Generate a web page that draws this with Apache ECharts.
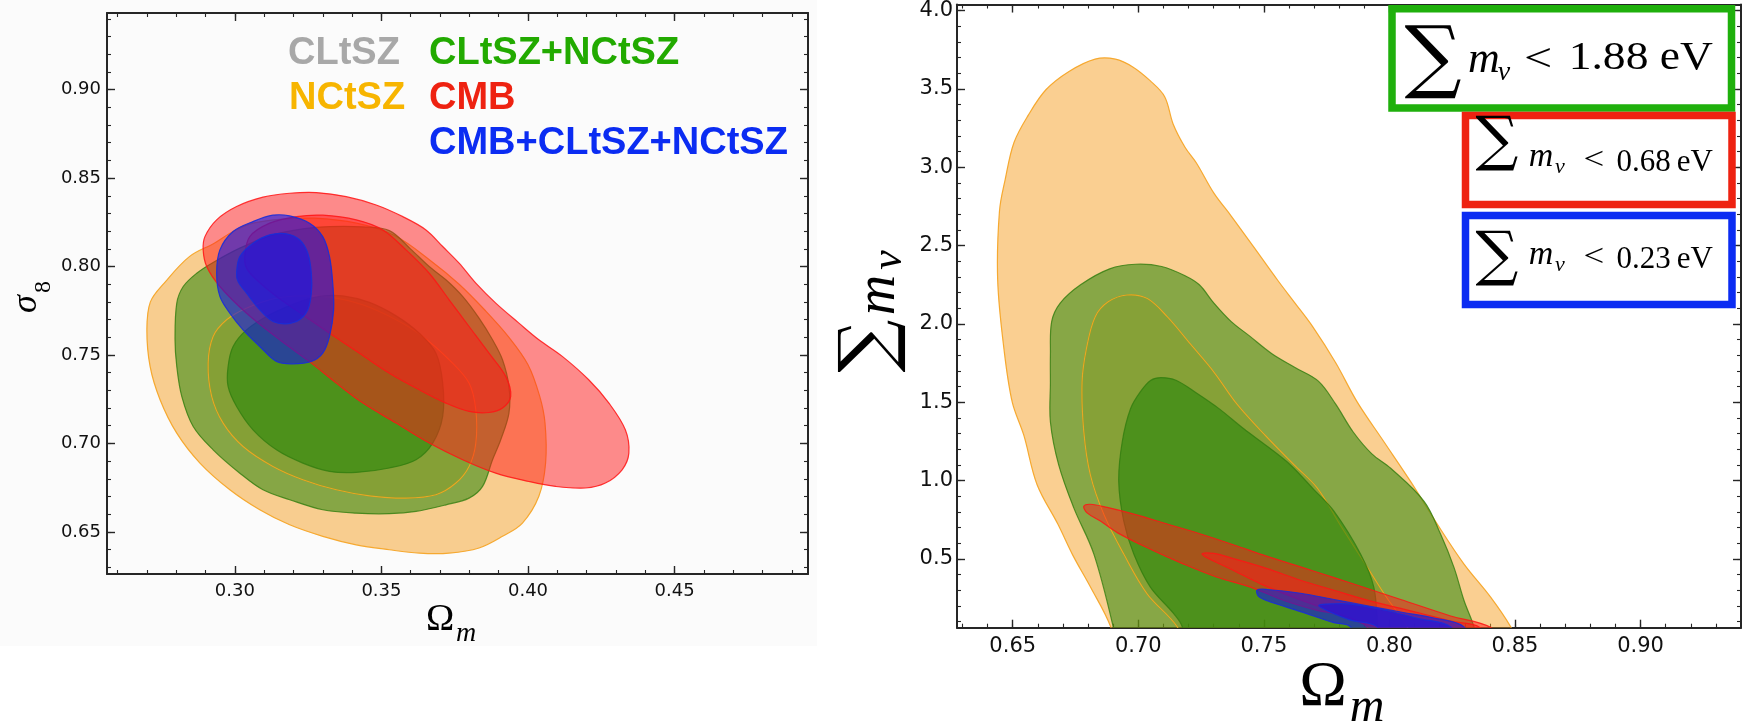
<!DOCTYPE html>
<html>
<head>
<meta charset="utf-8">
<script src="https://cdn.jsdelivr.net/npm/echarts@6/dist/echarts.min.js"></script>
<style>
  html, body { margin: 0; padding: 0; background: #ffffff; }
  #chart { width: 1742px; height: 725px; }
</style>
</head>
<body>
<div id="chart"></div>
<script>
// ---------- axis ticks ----------
const s8XTicks = [0.30, 0.35, 0.40, 0.45];
const s8YTicks = [0.65, 0.70, 0.75, 0.80, 0.85, 0.90];
const mnuXTicks = [0.65, 0.70, 0.75, 0.80, 0.85, 0.90];
const mnuYTicks = [0.5, 1.0, 1.5, 2.0, 2.5, 3.0, 3.5, 4.0];

// ---------- legend / bound labels ----------
const legendNames = ['CLtSZ', 'NCtSZ', 'CLtSZ+NCtSZ', 'CMB', 'CMB+CLtSZ+NCtSZ'];
const boundValues = ['1.88', '0.68', '0.23'];

// ---------- Omega_m – sigma_8 contours (95% / 68%) ----------
const s8NCtSZ95 = [[0.2760,0.7908],[0.2845,0.8056],[0.2930,0.8132],[0.2994,0.8198],[0.3062,0.8245],[0.3153,0.8267],[0.3270,0.8273],[0.3415,0.8245],[0.3545,0.8175],[0.3670,0.8030],[0.3765,0.7900],[0.3855,0.7750],[0.3935,0.7600],[0.4000,0.7445],[0.4040,0.7266],[0.4058,0.7115],[0.4060,0.6889],[0.4037,0.6701],[0.3981,0.6550],[0.3913,0.6475],[0.3833,0.6409],[0.3731,0.6380],[0.3629,0.6380],[0.3527,0.6399],[0.3414,0.6427],[0.3300,0.6475],[0.3187,0.6540],[0.3085,0.6625],[0.2983,0.6738],[0.2881,0.6889],[0.2802,0.7058],[0.2745,0.7247],[0.2711,0.7435],[0.2700,0.7642],[0.2712,0.7800]];
const s8NCtSZ68 = [[0.2909,0.7454],[0.2926,0.7605],[0.2972,0.7699],[0.3040,0.7765],[0.3142,0.7821],[0.3232,0.7834],[0.3323,0.7827],[0.3437,0.7783],[0.3550,0.7699],[0.3641,0.7605],[0.3731,0.7473],[0.3799,0.7341],[0.3822,0.7190],[0.3822,0.7002],[0.3799,0.6870],[0.3754,0.6776],[0.3686,0.6710],[0.3584,0.6691],[0.3459,0.6704],[0.3346,0.6738],[0.3232,0.6795],[0.3130,0.6870],[0.3028,0.6983],[0.2960,0.7115],[0.2921,0.7266]];
const s8Combo95 = [[0.2802,0.7793],[0.2824,0.7887],[0.2870,0.7962],[0.2926,0.8023],[0.3017,0.8104],[0.3130,0.8179],[0.3232,0.8213],[0.3323,0.8226],[0.3437,0.8224],[0.3527,0.8203],[0.3599,0.8100],[0.3663,0.8000],[0.3720,0.7925],[0.3777,0.7831],[0.3833,0.7708],[0.3879,0.7586],[0.3913,0.7473],[0.3935,0.7322],[0.3935,0.7171],[0.3907,0.7021],[0.3879,0.6908],[0.3845,0.6757],[0.3799,0.6691],[0.3720,0.6653],[0.3618,0.6616],[0.3527,0.6603],[0.3414,0.6606],[0.3300,0.6625],[0.3187,0.6682],[0.3096,0.6738],[0.3017,0.6832],[0.2926,0.6964],[0.2858,0.7096],[0.2819,0.7266],[0.2802,0.7435],[0.2796,0.7586]];
const s8Combo68 = [[0.2977,0.7435],[0.2994,0.7548],[0.3040,0.7642],[0.3119,0.7727],[0.3210,0.7793],[0.3289,0.7831],[0.3368,0.7834],[0.3459,0.7797],[0.3550,0.7721],[0.3629,0.7623],[0.3686,0.7510],[0.3709,0.7341],[0.3709,0.7153],[0.3675,0.7002],[0.3618,0.6908],[0.3527,0.6861],[0.3414,0.6836],[0.3323,0.6842],[0.3232,0.6889],[0.3142,0.6964],[0.3062,0.7077],[0.3006,0.7209],[0.2977,0.7322]];
const s8CMB95 = [[0.2898,0.8169],[0.2938,0.8264],[0.3006,0.8339],[0.3096,0.8392],[0.3187,0.8414],[0.3278,0.8418],[0.3380,0.8395],[0.3482,0.8348],[0.3573,0.8282],[0.3652,0.8207],[0.3709,0.8113],[0.3765,0.8019],[0.3822,0.7906],[0.3890,0.7793],[0.3969,0.7680],[0.4037,0.7586],[0.4117,0.7492],[0.4207,0.7360],[0.4276,0.7228],[0.4332,0.7077],[0.4344,0.6945],[0.4321,0.6851],[0.4264,0.6776],[0.4196,0.6748],[0.4094,0.6757],[0.4003,0.6785],[0.3890,0.6832],[0.3777,0.6908],[0.3663,0.7002],[0.3550,0.7115],[0.3437,0.7228],[0.3346,0.7341],[0.3261,0.7454],[0.3153,0.7586],[0.3040,0.7736],[0.2949,0.7887],[0.2904,0.8000],[0.2892,0.8094]];
const s8CMB68 = [[0.3034,0.8056],[0.3051,0.8169],[0.3119,0.8245],[0.3210,0.8282],[0.3300,0.8290],[0.3414,0.8264],[0.3505,0.8207],[0.3584,0.8094],[0.3663,0.7962],[0.3731,0.7812],[0.3799,0.7661],[0.3867,0.7510],[0.3924,0.7379],[0.3941,0.7266],[0.3913,0.7200],[0.3867,0.7175],[0.3799,0.7181],[0.3720,0.7228],[0.3629,0.7303],[0.3527,0.7397],[0.3425,0.7510],[0.3323,0.7623],[0.3232,0.7727],[0.3142,0.7831],[0.3074,0.7925],[0.3040,0.7991]];
const s8All95 = [[0.2938,0.7962],[0.2949,0.8094],[0.2994,0.8198],[0.3062,0.8254],[0.3130,0.8290],[0.3187,0.8286],[0.3255,0.8245],[0.3300,0.8169],[0.3323,0.8056],[0.3334,0.7906],[0.3337,0.7755],[0.3323,0.7605],[0.3300,0.7510],[0.3261,0.7463],[0.3198,0.7450],[0.3142,0.7463],[0.3085,0.7548],[0.3028,0.7642],[0.2983,0.7736],[0.2949,0.7831]];
const s8All68 = [[0.3006,0.7962],[0.3017,0.8056],[0.3062,0.8132],[0.3119,0.8179],[0.3176,0.8185],[0.3221,0.8151],[0.3249,0.8075],[0.3261,0.7962],[0.3261,0.7849],[0.3249,0.7755],[0.3221,0.7699],[0.3176,0.7676],[0.3130,0.7689],[0.3085,0.7755],[0.3040,0.7849],[0.3011,0.7915]];

// ---------- Omega_m – sum m_nu contours (95% / 68%) ----------
const mnuNCtSZ95 = [[0.6905,-0.10],[0.6890,0.065],[0.6810,0.318],[0.6740,0.520],[0.6680,0.720],[0.6597,0.973],[0.6544,1.289],[0.6498,1.500],[0.6465,1.839],[0.6440,2.278],[0.6447,2.717],[0.6470,2.922],[0.6505,3.157],[0.6562,3.332],[0.6632,3.494],[0.6724,3.611],[0.6828,3.690],[0.6909,3.690],[0.6978,3.640],[0.7047,3.552],[0.7105,3.450],[0.7139,3.274],[0.7186,3.127],[0.7232,3.025],[0.7301,2.834],[0.7370,2.688],[0.7463,2.483],[0.7555,2.278],[0.7624,2.132],[0.7693,1.985],[0.7786,1.751],[0.7872,1.500],[0.7978,1.247],[0.8084,0.994],[0.8191,0.720],[0.8297,0.466],[0.8403,0.255],[0.8483,0.065],[0.8530,-0.10]];
const mnuNCtSZ68 = [[0.7190,-0.10],[0.7155,0.065],[0.7035,0.276],[0.6942,0.530],[0.6863,0.783],[0.6809,1.036],[0.6783,1.310],[0.6776,1.627],[0.6793,1.839],[0.6828,2.044],[0.6880,2.140],[0.6955,2.184],[0.7036,2.161],[0.7116,2.044],[0.7209,1.868],[0.7301,1.692],[0.7393,1.487],[0.7509,1.282],[0.7620,1.100],[0.7713,0.951],[0.7810,0.700],[0.7912,0.445],[0.7990,0.250],[0.8071,0.065],[0.8110,-0.10]];
const mnuCombo95 = [[0.6915,-0.10],[0.6900,0.065],[0.6823,0.530],[0.6743,0.825],[0.6683,1.099],[0.6650,1.373],[0.6650,1.627],[0.6650,1.800],[0.6655,2.014],[0.6689,2.132],[0.6770,2.249],[0.6886,2.351],[0.6989,2.380],[0.7093,2.366],[0.7186,2.307],[0.7243,2.249],[0.7301,2.132],[0.7370,2.014],[0.7440,1.926],[0.7532,1.809],[0.7624,1.721],[0.7717,1.634],[0.7786,1.487],[0.7855,1.311],[0.7930,1.170],[0.8005,1.078],[0.8138,0.867],[0.8204,0.656],[0.8257,0.445],[0.8297,0.234],[0.8337,0.065],[0.8360,-0.10]];
const mnuCombo68 = [[0.7180,-0.10],[0.7175,0.065],[0.7141,0.150],[0.7048,0.319],[0.6982,0.530],[0.6942,0.741],[0.6922,0.994],[0.6936,1.247],[0.6969,1.458],[0.7010,1.570],[0.7050,1.640],[0.7090,1.657],[0.7150,1.640],[0.7230,1.560],[0.7320,1.460],[0.7420,1.330],[0.7520,1.210],[0.7606,1.099],[0.7700,0.940],[0.7779,0.804],[0.7885,0.530],[0.7938,0.318],[0.7952,0.065],[0.7955,-0.10]];
const mnuCMB95 = [[0.6783,0.835],[0.6809,0.848],[0.6876,0.828],[0.6982,0.785],[0.7115,0.722],[0.7248,0.658],[0.7381,0.588],[0.7513,0.515],[0.7646,0.448],[0.7779,0.380],[0.7912,0.310],[0.8045,0.240],[0.8244,0.135],[0.8403,0.062],[0.8500,-0.10],[0.8040,-0.10],[0.7980,0.040],[0.7890,0.090],[0.7779,0.150],[0.7712,0.171],[0.7580,0.234],[0.7447,0.319],[0.7314,0.382],[0.7181,0.466],[0.7048,0.561],[0.6916,0.667],[0.6849,0.741],[0.6796,0.793]];
const mnuCMB68 = [[0.7254,0.532],[0.7301,0.534],[0.7381,0.500],[0.7513,0.437],[0.7646,0.363],[0.7779,0.299],[0.7912,0.236],[0.8045,0.183],[0.8124,0.152],[0.8250,0.100],[0.8360,0.062],[0.8420,-0.10],[0.8000,-0.10],[0.7900,0.080],[0.7780,0.160],[0.7650,0.235],[0.7487,0.340],[0.7381,0.424],[0.7274,0.506]];
const mnuAll95 = [[0.7473,0.300],[0.7513,0.304],[0.7646,0.280],[0.7779,0.240],[0.7912,0.200],[0.8045,0.160],[0.8177,0.122],[0.8297,0.065],[0.8340,-0.10],[0.7880,-0.10],[0.7845,0.065],[0.7779,0.092],[0.7646,0.163],[0.7513,0.232],[0.7478,0.262]];
const mnuAll68 = [[0.7719,0.203],[0.7780,0.213],[0.7845,0.211],[0.7978,0.173],[0.8111,0.120],[0.8244,0.065],[0.8290,-0.10],[0.7990,-0.10],[0.7951,0.065],[0.7845,0.108],[0.7753,0.168]];

// ---------- styling ----------
const ORANGE = [245, 160, 35];
const GREEN = [40, 135, 10];
const RED = [255, 25, 25];
const BLUE = [20, 20, 230];
const rgba = (c, a) => `rgba(${c[0]},${c[1]},${c[2]},${a})`;

// one contour region, drawn through the grid's own scales
// (fillAlpha 0 gives an outline only)
function region(name, pts, color, fillAlpha, strokeColor, axisIdx) {
  return {
    type: 'custom',
    name: name,
    xAxisIndex: axisIdx,
    yAxisIndex: axisIdx,
    clip: true,
    silent: true,
    animation: false,
    data: pts,
    renderItem: function (params, api) {
      if (params.dataIndex !== 0) return null;
      return {
        type: 'polygon',
        shape: { points: pts.map(function (p) { return api.coord(p); }), smooth: 0.35 },
        style: {
          fill: fillAlpha > 0 ? rgba(color, fillAlpha) : 'none',
          stroke: strokeColor, lineWidth: 1.2
        }
      };
    }
  };
}

function range(a, b, step) {
  const out = [];
  const n = Math.round((b - a) / step);
  for (let i = 0; i <= n; i++) out.push(+(a + i * step).toFixed(4));
  return out;
}

const AX = '#262626';

// major + minor tick axes on both sides of a grid
function axisSet(dim, gridIndex, min, max, major, minor, fmt, fontSize, margin) {
  const sides = dim === 'x' ? ['bottom', 'top'] : ['left', 'right'];
  const out = [];
  sides.forEach(function (side, si) {
    out.push({
      type: 'value', gridIndex: gridIndex, position: side, min: min, max: max,
      splitLine: { show: false },
      axisLine: { show: true, onZero: false, lineStyle: { color: AX, width: 2 } },
      axisTick: { show: true, inside: true, length: 8, customValues: major, lineStyle: { color: AX, width: 1.4 } },
      axisLabel: {
        show: si === 0, customValues: major, formatter: fmt, margin: margin,
        fontFamily: 'DejaVu Sans', fontSize: fontSize, color: '#111'
      }
    });
    out.push({
      type: 'value', gridIndex: gridIndex, position: side, min: min, max: max,
      splitLine: { show: false },
      axisLine: { show: false },
      axisTick: { show: true, inside: true, length: 4, customValues: minor, lineStyle: { color: AX, width: 1.1 } },
      axisLabel: { show: false }
    });
  });
  return out;
}

const f2 = function (v) { return v.toFixed(2); };
const f1 = function (v) { return v.toFixed(1); };

const xAxes = [].concat(
  axisSet('x', 0, 0.2564, 0.4955, s8XTicks, range(0.26, 0.49, 0.01), f2, 18, 8),
  axisSet('x', 1, 0.6278, 0.9400, mnuXTicks, range(0.63, 0.94, 0.01), f2, 21, 8)
);
const yAxes = [].concat(
  axisSet('y', 0, 0.6262, 0.9433, s8YTicks, range(0.63, 0.94, 0.01), f2, 18, 6),
  axisSet('y', 1, 0.06, 4.038, mnuYTicks, range(0.1, 4.0, 0.1), f1, 21, 4)
);

const orangeLine = 'rgba(245,165,40,0.95)';
const orangeInnerLine = 'rgba(240,170,40,0.9)';
const greenLine = 'rgba(50,125,15,0.8)';
const redLine = 'rgba(255,20,20,0.85)';
const blueLine = 'rgba(25,45,215,0.9)';

function panelSeries(c, axisIdx) {
  return [
    region('NCtSZ 95%', c[0], ORANGE, 0.5, orangeLine, axisIdx),
    region('NCtSZ 68%', c[1], ORANGE, 0.3, orangeLine, axisIdx),
    region('CLtSZ+NCtSZ 95%', c[2], GREEN, 0.55, greenLine, axisIdx),
    region('NCtSZ 68% edge', c[1], ORANGE, 0, orangeInnerLine, axisIdx),
    region('CLtSZ+NCtSZ 68%', c[3], GREEN, 0.6, greenLine, axisIdx),
    region('CMB 95%', c[4], RED, 0.5, redLine, axisIdx),
    region('CMB 68%', c[5], RED, 0.5, redLine, axisIdx),
    region('CMB+CLtSZ+NCtSZ 95%', c[6], BLUE, 0.6, blueLine, axisIdx),
    region('CMB+CLtSZ+NCtSZ 68%', c[7], BLUE, 0.6, blueLine, axisIdx)
  ];
}

const series = [].concat(
  panelSeries([s8NCtSZ95, s8NCtSZ68, s8Combo95, s8Combo68, s8CMB95, s8CMB68, s8All95, s8All68], 0),
  panelSeries([mnuNCtSZ95, mnuNCtSZ68, mnuCombo95, mnuCombo68, mnuCMB95, mnuCMB68, mnuAll95, mnuAll68], 4)
);

// ---------- text helpers ----------
function txt(text, x, y, o) {
  return {
    type: 'text', x: x, y: y, rotation: o.rotation || 0, z: 50,
    scaleX: o.scaleX || 1,
    style: {
      text: text,
      fontFamily: o.family || 'Liberation Serif',
      fontSize: o.size,
      fontStyle: o.italic ? 'italic' : 'normal',
      fontWeight: o.bold ? 'bold' : 'normal',
      fill: o.color || '#000',
      align: o.align || 'center', textAlign: o.align || 'center',
      verticalAlign: 'middle', textVerticalAlign: 'middle'
    }
  };
}

function boundBox(x, y, w, h, color, lw) {
  return {
    type: 'rect', z: 40,
    shape: { x: x, y: y, width: w, height: h },
    style: { fill: '#ffffff', stroke: color, lineWidth: lw }
  };
}

const legendColors = ['#a8a8a8', '#f7b500', '#22aa00', '#ee2211', '#0b2cf2'];
const LEG = { family: 'Liberation Sans', size: 38, bold: true, align: 'left' };

const graphics = [
  { type: 'rect', z: -100, shape: { x: 0, y: 0, width: 817, height: 646 }, style: { fill: '#fbfbfb' } },

  // legend of the left panel
  txt(legendNames[0], 288, 54, Object.assign({}, LEG, { color: legendColors[0] })),
  txt(legendNames[1], 289, 99, Object.assign({}, LEG, { color: legendColors[1] })),
  txt(legendNames[2], 429, 54, Object.assign({}, LEG, { color: legendColors[2] })),
  txt(legendNames[3], 429, 99, Object.assign({}, LEG, { color: legendColors[3] })),
  txt(legendNames[4], 429, 144, Object.assign({}, LEG, { color: legendColors[4] })),

  // left axis titles
  txt('σ', 27, 304, { size: 36, italic: true, rotation: Math.PI / 2 }),
  txt('8', 44, 287, { size: 24, rotation: Math.PI / 2 }),
  txt('Ω', 440, 620, { size: 38 }),
  txt('m', 466, 634, { size: 28, italic: true }),

  // right axis titles
  txt('∑', 872, 346, { family: 'DejaVu Serif', size: 74, rotation: Math.PI / 2 }),
  txt('m', 879, 295, { size: 56, italic: true, rotation: Math.PI / 2 }),
  txt('ν', 889, 260, { size: 44, italic: true, rotation: Math.PI / 2 }),
  txt('Ω', 1323, 688, { size: 64 }),
  txt('m', 1367, 708, { size: 48, italic: true }),

  // neutrino mass bounds
  boundBox(1392, 8.75, 339.5, 99.2, '#1fb00c', 7.5),
  boundBox(1465.5, 115.5, 266.5, 89, '#ee2211', 7.5),
  boundBox(1465.5, 215.5, 266.5, 89, '#0b2cf2', 7.5),

  txt('∑', 1433, 62, { family: 'DejaVu Serif', size: 80 }),
  txt('m', 1484, 60, { size: 44, italic: true }),
  txt('ν', 1504, 73, { size: 28, italic: true }),
  txt('<', 1538, 60, { size: 40, scaleX: 1.25 }),
  txt(boundValues[0] + ' eV', 1713, 58, { size: 40, align: 'right', scaleX: 1.14 }),

  txt('∑', 1497, 143, { family: 'DejaVu Serif', size: 60 }),
  txt('m', 1541, 157, { size: 34, italic: true }),
  txt('ν', 1560, 167, { size: 22, italic: true }),
  txt('<', 1594, 161, { size: 32, scaleX: 1.15 }),
  txt(boundValues[1] + '\u2009eV', 1713, 163, { size: 31, align: 'right' }),

  txt('∑', 1497, 258, { family: 'DejaVu Serif', size: 60 }),
  txt('m', 1541, 255, { size: 34, italic: true }),
  txt('ν', 1560, 265, { size: 22, italic: true }),
  txt('<', 1594, 258, { size: 32, scaleX: 1.15 }),
  txt(boundValues[2] + '\u2009eV', 1713, 260, { size: 31, align: 'right' })
];

const chart = echarts.init(document.getElementById('chart'), null, { renderer: 'canvas' });
chart.setOption({
  animation: false,
  backgroundColor: '#ffffff',
  grid: [
    { left: 107, top: 13, width: 701, height: 561, containLabel: false },
    { left: 957, top: -1, width: 784, height: 628.7, containLabel: false }
  ],
  xAxis: xAxes,
  yAxis: yAxes,
  series: series,
  graphic: { elements: graphics }
});
</script>
</body>
</html>
